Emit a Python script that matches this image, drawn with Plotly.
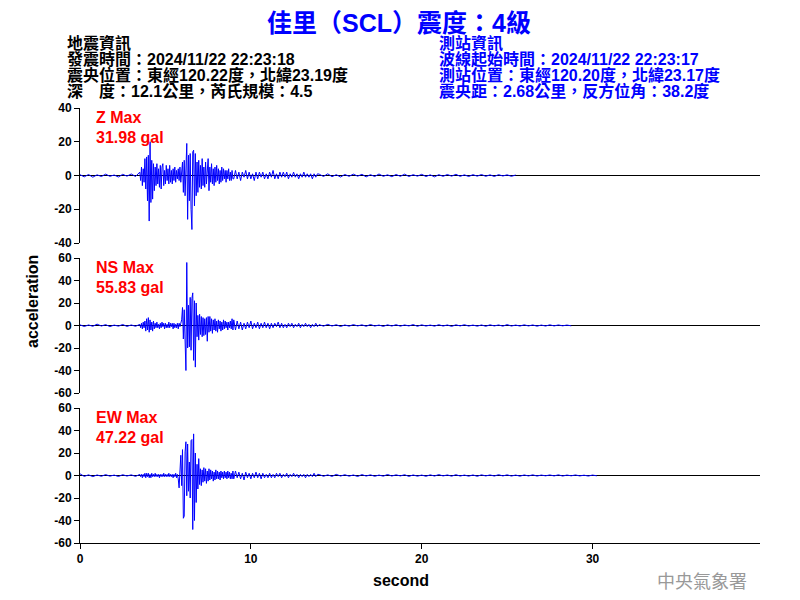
import numpy as np
import plotly.graph_objects as go
from plotly.subplots import make_subplots

# ---------------- data (acceleration in gal) ----------------
# each component: pre-event noise (dt 0.25 s from 0 s), active part (dt 0.05 s from 3.5 s),
# coda (dt 0.1 s from 9 s), tail (dt 0.25 s from 14 s)
Z_PRE = [0.5, -0.8, 0.6, -1.0, 0.4, -0.6, 0.8, -0.5, 0.3, -0.9, 0.7, -0.4, 0.9, -0.6]
Z_ACTIVE = [2, -3, 5, -6, 4, -4, 10, -8, 11, -15,
            12, -27, 20, -16, 9, -14, 7, -9, 5, -6,
            7, -5, 4, -7, 6, -8, 5, 7, -6, 3,
            -5, 6, -3, 4, -5, 6, -4, 3, -5, 4,
            -3, 5, -4, 3, -2, 4, -3, 5, -4, 6,
            8, -10, 9, -12, 14, 19, -26, 12, -15, 13,
            -20, -32, 14, 15, -18, 13, -12, 8, -10, 9,
            -7, 6, -8, 10, -6, 5, -7, 8, -5, 6,
            10, -9, 5, -4, 7, -5, 4, -6, 5, -4,
            6, -3, 4, -5, 3, -4, 5, -3, 4, -2,
            3, -4, 3, -2, 4, -3, 2, -3, 3, -2]
Z_CODA = [-2, 3, -2, 2, -3, 2, -1, 3, -2, 2,
          -2, 1, -3, 2, -2, 2, -1, 2, -2, 1,
          -2, 2, -1, 3, -2, 1, -2, 2, -1, 2,
          -1, 2, -2, 1, -1, 2, -1, 1, -2, 1,
          -1, 2, -1, 1, -1, 1, -2, 1, -1, 1]
Z_TAIL = [0.8, -0.6, 1, -0.7, 0.5, -0.9, 0.6, -0.5, 0.8, -0.4,
          0.7, -0.8, 0.5, -0.6, 0.9, -0.5, 0.4, -0.7, 0.6, -0.5,
          0.8, -0.6, 0.5, -0.4, 0.7, -0.6, 0.4, -0.8, 0.5, -0.5,
          0.6, -0.4, 0.7, -0.5, 0.4, -0.6, 0.5, -0.4, 0.6, -0.5,
          0.4, -0.6, 0.5, -0.3, 0.4, -0.5, 0.3]

NS_PRE = [0.6, -0.9, 0.5, -0.7, 1.2, -0.5, 0.8, -1.0, 0.4, -0.6, 0.9, -0.8, 0.5, -0.7]
NS_ACTIVE = [1, -2, 2, -3, 3, -2, 4, -5, 6, -4,
             7, -6, 5, -4, 3, -5, 4, -3, 2, -2,
             3, -2, 1, -3, 2, -2, 3, -1, 2, -3,
             2, -2, 1, -2, 3, -2, 2, -1, 2, -3,
             2, -2, 1, -2, 2, -3, 2, -1, 2, 5,
             16, -12, 14, -18, -40, 56, -20, 18, -19, 25,
             -22, 24, 29, -31, 22, -37, 20, -10, 9, -13,
             10, -8, 8, -10, 7, -9, 6, -8, 7, -14,
             8, -6, 8, -5, 6, -7, 5, -4, 6, -5,
             4, -6, 5, -3, 4, -5, 3, -4, 5, -3,
             4, -2, 3, -4, 3, -2, 4, -3, 6, -4]
NS_CODA = [5, -4, 4, -3, 3, -4, 2, -3, 3, -2,
           4, -3, 2, -2, 3, -3, 2, -2, 3, -2,
           2, -3, 2, -2, 2, -1, 3, -2, 2, -2,
           1, -2, 2, -1, 2, -2, 1, -1, 2, -2,
           1, -1, 2, -1, 1, -2, 1, -1, 2, -1]
NS_TAIL = [0.8, -0.6, 1.0, -0.5, 0.7, -0.9, 0.5, -0.6, 0.8, -0.4,
           0.6, -0.7, 0.9, -0.5, 0.4, -0.8, 0.6, -0.5, 0.7, -0.6,
           0.5, -0.4, 0.8, -0.7, 0.6, -0.5, 0.4, -0.6, 0.7, -0.5,
           0.5, -0.8, 0.6, -0.4, 0.7, -0.5, 0.4, -0.6, 0.5, -0.7,
           0.6, -0.4, 0.5, -0.6, 0.8, -0.5, 0.4, -0.5, 0.6, -0.4,
           0.5, -0.6, 0.4, -0.5, 0.6, -0.4, 0.5, -0.3, 0.4, -0.3]

EW_PRE = [1.5, -0.8, 0.6, -1.0, 0.5, -0.7, 0.8, -0.6, 0.4, -0.9, 0.7, -0.5, 0.6, -0.8]
EW_ACTIVE = [1, -1, 1, -2, 1, -1, 2, -2, 2, -1,
             2, -2, 1, -2, 2, -1, 1, -1, 2, -1,
             1, -1, 1, -2, 1, -1, 1, -1, 2, -1,
             1, -1, 1, -1, 2, -1, 1, -1, 1, -2,
             1, -1, 2, -2, 1, -3,
             -11, 5, 18, -9,
             23, -38, -36, 21, 30, -18, 28, -14, 12, -20,
             31, 32, -48, 37, -40, 20, -24, 10, -12, 15,
             -8, 6, -9, 5, -6, 7, -5, 6, -7, 4,
             -5, 6, -4, 5, -3, 4, -5, 3, -4, 5,
             -3, 4, -3, 3, -4, 4, -2, 3, -3, 4,
             -2, 3, -3, 4, -2, 3, -3, 2, -3, 4]
EW_CODA = [-3, 4, -2, 3, -3, 2, -4, 3, -2, 2,
           -3, 2, -2, 3, -2, 2, -3, 2, -2, 1,
           -2, 2, -2, 1, -2, 2, -1, 2, -2, 1,
           -1, 2, -2, 1, -1, 2, -1, 1, -2, 1,
           -1, 1, -2, 1, -1, 1, -1, 2, -1, 1]
EW_TAIL = [0.9, -0.7, 0.6, -0.8, 1.0, -0.5, 0.7, -0.6, 0.5, -0.9,
           0.8, -0.5, 0.6, -0.7, 0.4, -0.6, 0.9, -0.5, 0.6, -0.4,
           0.7, -0.8, 0.5, -0.6, 0.4, -0.7, 0.6, -0.5, 0.8, -0.4,
           0.5, -0.6, 0.7, -0.5, 0.4, -0.6, 0.5, -0.7, 0.6, -0.4,
           0.5, -0.5, 0.7, -0.4, 0.6, -0.5, 0.4, -0.6, 0.5, -0.4,
           0.6, -0.5, 0.4, -0.3, 0.5, -0.4, 0.6, -0.5, 0.4, -0.3,
           0.5, -0.4, 0.3, -0.5, 0.4, -0.3]

SEG_START = [0.0, 3.5, 9.0, 14.0]
SEG_DT = [0.25, 0.05, 0.1, 0.25]

COMPONENTS = ["Z", "NS", "EW"]
MAX_LABELS = ["31.98 gal", "55.83 gal", "47.22 gal"]
Y_RANGES = [[-40, 40], [-60, 60], [-60, 60]]
Y_TICKS = [[-40, -20, 0, 20, 40], [-60, -40, -20, 0, 20, 40, 60], [-60, -40, -20, 0, 20, 40, 60]]
X_TICKS = [0, 10, 20, 30]
X_RANGE = [0, 39.8]

TITLE = "佳里（SCL）震度：4級"
LEFT_INFO = ["地震資訊", "發震時間：2024/11/22 22:23:18",
             "震央位置：東經120.22度，北緯23.19度", "深　度：12.1公里，芮氏規模：4.5"]
RIGHT_INFO = ["測站資訊", "波線起始時間：2024/11/22 22:23:17",
              "測站位置：東經120.20度，北緯23.17度", "震央距：2.68公里，反方位角：38.2度"]


def build(segments):
    ts, vs = [], []
    for start, dt, vals in zip(SEG_START, SEG_DT, segments):
        ts.append(start + dt * np.arange(len(vals)))
        vs.append(np.asarray(vals, dtype=float))
    return np.concatenate(ts), np.concatenate(vs)


traces = [build([Z_PRE, Z_ACTIVE, Z_CODA, Z_TAIL]),
          build([NS_PRE, NS_ACTIVE, NS_CODA, NS_TAIL]),
          build([EW_PRE, EW_ACTIVE, EW_CODA, EW_TAIL])]

# ---------------- figure ----------------
# the page body adds an 8 px offset; all layout numbers below are in window pixels
OFF = 8
W, H = 800 - OFF, 600 - OFF
ML, MR, MT, MB = 80 - OFF, 40, 108 - OFF, 57
PW, PH = W - ML - MR, H - MT - MB


def px(x):
    return (x - OFF - ML) / PW


def py(y):
    return (H - MB - (y - OFF)) / PH


fig = make_subplots(rows=3, cols=1, shared_xaxes=False, vertical_spacing=0.0)
domains = [[py(243), py(108)], [py(393), py(258)], [py(543), py(408)]]

NUM_FONT = dict(family="Liberation Sans, Arial, sans-serif", size=12, color="black", weight="bold")
for i, (t, v) in enumerate(traces):
    r = i + 1
    fig.add_trace(go.Scatter(x=t, y=v, mode="lines", line=dict(color="#0000FF", width=1),
                             showlegend=False, hoverinfo="skip"), row=r, col=1)
    fig.update_yaxes(range=Y_RANGES[i], tickvals=Y_TICKS[i], ticktext=[str(k) for k in Y_TICKS[i]],
                     domain=domains[i], showline=True, linecolor="black", linewidth=1,
                     ticks="outside", ticklen=5, tickcolor="black", showgrid=False,
                     zeroline=True, zerolinecolor="black", zerolinewidth=1,
                     tickfont=NUM_FONT, row=r, col=1)
    last = (r == 3)
    fig.update_xaxes(range=X_RANGE, showgrid=False, zeroline=False,
                     showline=last, linecolor="black", linewidth=1,
                     ticks="outside" if last else "", ticklen=5, tickcolor="black",
                     tickvals=X_TICKS, showticklabels=last, tickfont=NUM_FONT,
                     row=r, col=1)

ann = []
CJK = "Liberation Sans, Noto Sans CJK TC, sans-serif"
ann.append(dict(text="<b>" + TITLE + "</b>", x=px(399), xref="paper", y=py(OFF), yref="paper",
                xanchor="center", yanchor="top", showarrow=False, borderpad=0,
                font=dict(family=CJK, size=25, color="#0000FF")))
for k, line in enumerate(LEFT_INFO):
    ann.append(dict(text="<b>" + line + "</b>", x=px(65), xref="paper", y=py(43 + 16 * k), yref="paper",
                    xanchor="left", yanchor="middle", showarrow=False,
                    font=dict(family=CJK, size=16, color="black")))
for k, line in enumerate(RIGHT_INFO):
    ann.append(dict(text="<b>" + line + "</b>", x=px(437), xref="paper", y=py(43 + 16 * k), yref="paper",
                    xanchor="left", yanchor="middle", showarrow=False,
                    font=dict(family=CJK, size=16, color="#0000FF")))
label_tops = [117, 267, 417]
for i, comp in enumerate(COMPONENTS):
    ann.append(dict(text="<b>" + comp + " Max</b>", x=px(94), xref="paper", y=py(label_tops[i]), yref="paper",
                    xanchor="left", yanchor="middle", showarrow=False,
                    font=dict(family="Liberation Sans, Arial", size=16, color="#FF0000")))
    ann.append(dict(text="<b>" + MAX_LABELS[i] + "</b>", x=px(94), xref="paper", y=py(label_tops[i] + 20),
                    yref="paper", xanchor="left", yanchor="middle", showarrow=False,
                    font=dict(family="Liberation Sans, Arial", size=16, color="#FF0000")))
ann.append(dict(text="<b>acceleration</b>", x=px(32), xref="paper", y=py(302), yref="paper",
                xanchor="center", yanchor="middle", textangle=-90, showarrow=False,
                font=dict(family="Liberation Sans, Arial", size=16, color="black")))
ann.append(dict(text="<b>second</b>", x=px(401), xref="paper", y=py(580), yref="paper",
                xanchor="center", yanchor="middle", showarrow=False,
                font=dict(family="Liberation Sans, Arial", size=16, color="black")))
ann.append(dict(text="中央氣象署", x=px(702), xref="paper", y=py(580), yref="paper",
                xanchor="center", yanchor="middle", showarrow=False,
                font=dict(family="Noto Sans CJK TC, sans-serif", size=18, color="#999999")))

fig.update_layout(width=W, height=H, margin=dict(l=ML, r=MR, t=MT, b=MB),
                  paper_bgcolor="white", plot_bgcolor="white", annotations=ann,
                  showlegend=False)
fig.write_html("out.html")
